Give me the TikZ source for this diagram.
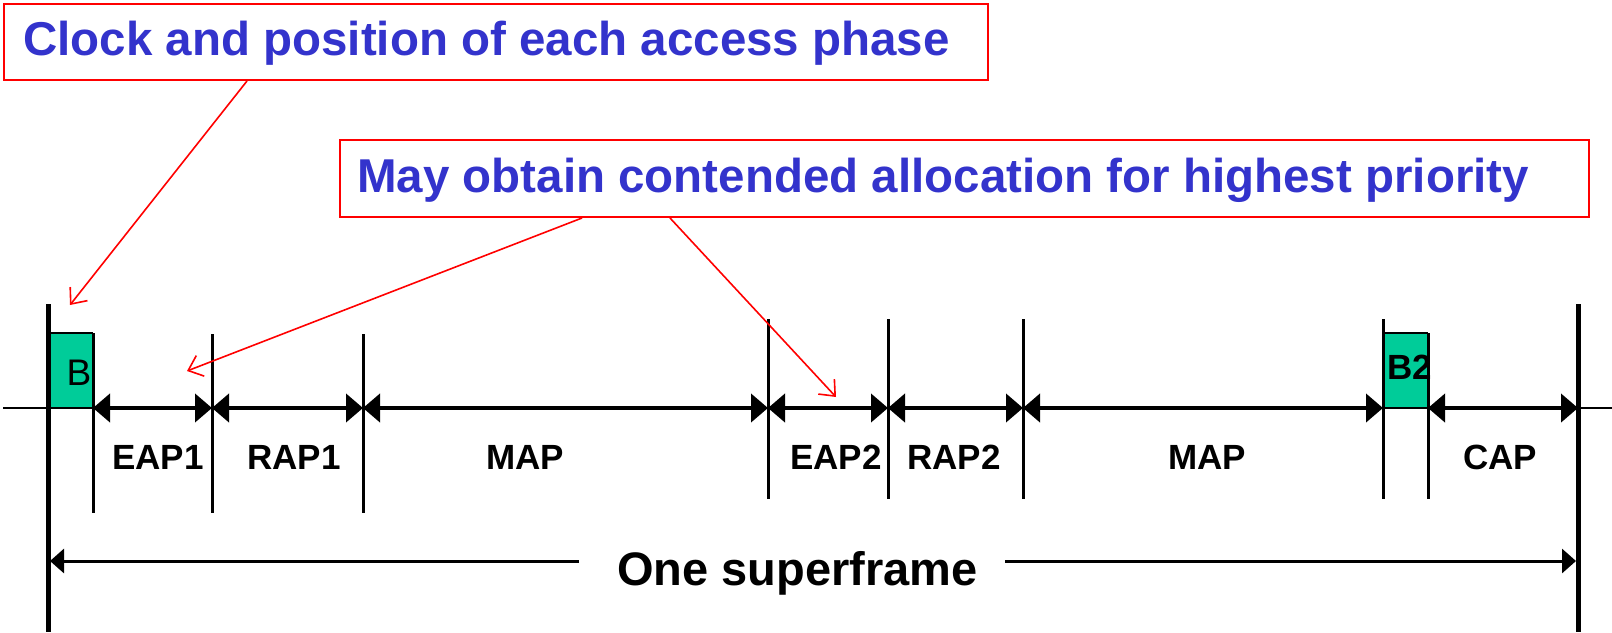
\documentclass[tikz,border=0pt]{standalone}
\usepackage{fontspec}
\setmainfont{Liberation Sans}
\usetikzlibrary{arrows.meta}
\definecolor{calloutblue}{HTML}{3333CC}
\definecolor{beacongreen}{HTML}{00CC99}
\tikzset{
  callout/.style={draw=red, line width=2pt, rectangle, inner sep=0pt},
  callouttext/.style={text=calloutblue, font=\fontsize{47.5}{56}\selectfont\bfseries, inner sep=0pt},
  pointer/.style={draw=red, line width=1.6pt, -{Straight Barb[length=13pt,width=22pt,line width=1.6pt]}},
  phase/.style={line width=4pt, {Triangle[length=17pt,width=28pt]}-{Triangle[length=17pt,width=28pt]}},
  phaselabel/.style={font=\fontsize{35}{40}\selectfont\bfseries, inner sep=0pt, anchor=base},
  tick/.style={line width=3pt},
  frameedge/.style={line width=5pt},
  span/.style={line width=3pt},
  beacon/.style={fill=beacongreen, draw=black, line width=2.5pt}
}
\begin{document}
\begin{tikzpicture}[x=1pt,y=-1pt]
\useasboundingbox (0,0) rectangle (1612,632);

% callout boxes with their texts
\node[callout, anchor=north west, minimum width=984pt, minimum height=76pt] (box1) at (3,3) {};
\node[callouttext, anchor=base west] (txt1) at (23,55) {Clock and position of each access phase};
\node[callout, anchor=north west, minimum width=1249pt, minimum height=77pt] (box2) at (339,139) {};
\node[callouttext, anchor=base west] (txt2) at (357,192) {May obtain contended allocation for highest priority};

% beacon slots
\fill[beacongreen] (48,333) rectangle (93,408);
\draw[line width=2.5pt] (48,333) -- (93,333);
\fill[beacongreen] (1383,333) rectangle (1428,408);
\draw[line width=2.5pt] (1383,333) -- (1428,333);
\node[font=\fontsize{37}{40}\selectfont, inner sep=0pt, anchor=base] (b1) at (79,385) {B};
\node[phaselabel] (b2) at (1410,379) {B2};

% time axis
\coordinate (axL) at (3,408);
\coordinate (axR) at (1612,408);
\draw[line width=2pt] (axL) -- (axR);

% phase boundaries on the axis
\coordinate (p0) at (93,408);
\coordinate (p1) at (212,408);
\coordinate (p2) at (363,408);
\coordinate (p3) at (768,408);
\coordinate (p4) at (888,408);
\coordinate (p5) at (1023,408);
\coordinate (p6) at (1383,408);
\coordinate (p7) at (1428,408);
\coordinate (p8) at (1578,408);
\coordinate (s0) at (48,408);

% superframe edges
\draw[frameedge] (48,304) -- (48,632);
\draw[frameedge] (1578,304) -- (1578,632);

% boundary ticks
\draw[tick] (93,333) -- (93,513);
\draw[tick] (212,334) -- (212,513);
\draw[tick] (363,334) -- (363,513);
\draw[tick] (768,319) -- (768,499);
\draw[tick] (888,319) -- (888,499);
\draw[tick] (1023,319) -- (1023,499);
\draw[tick] (1383,319) -- (1383,499);
\draw[tick] (1428,333) -- (1428,499);

% phase extents
\draw[phase] (p0) -- (p1);
\draw[phase] (p1) -- (p2);
\draw[phase] (p2) -- (p3);
\draw[phase] (p3) -- (p4);
\draw[phase] (p4) -- (p5);
\draw[phase] (p5) -- (p6);
\draw[phase] (p7) -- (p8);

% phase names
\node[phaselabel] (eap1) at (158,469) {EAP1};
\node[phaselabel] (rap1) at (294,469) {RAP1};
\node[phaselabel] (map1) at (525,469) {MAP};
\node[phaselabel] (eap2) at (836,469) {EAP2};
\node[phaselabel] (rap2) at (954,469) {RAP2};
\node[phaselabel] (map2) at (1207,469) {MAP};
\node[phaselabel] (cap) at (1500,469) {CAP};

% superframe span
\node[font=\fontsize{47}{52}\selectfont\bfseries, inner sep=0pt, anchor=base] (sf) at (797.5,585) {One superframe};
\coordinate (sfL) at (50,561);
\coordinate (sfLend) at (579,561);
\coordinate (sfR) at (1576,561);
\coordinate (sfRend) at (1005,561);
\draw[span, -{Triangle[length=14pt,width=24pt]}] (sfLend) -- (sfL);
\draw[span, -{Triangle[length=14pt,width=24pt]}] (sfRend) -- (sfR);

% pointers from the callouts
\coordinate (tipB) at (70,305);
\coordinate (tipE1) at (187,371);
\coordinate (tipE2) at (836,397);
\draw[pointer] (box1.south west) ++(244,0) coordinate (from1) -- (tipB);
\draw[pointer] (box2.south west) ++(243,0) coordinate (from2) -- (tipE1);
\draw[pointer] (box2.south west) ++(331,0) coordinate (from3) -- (tipE2);
\end{tikzpicture}
\end{document}
